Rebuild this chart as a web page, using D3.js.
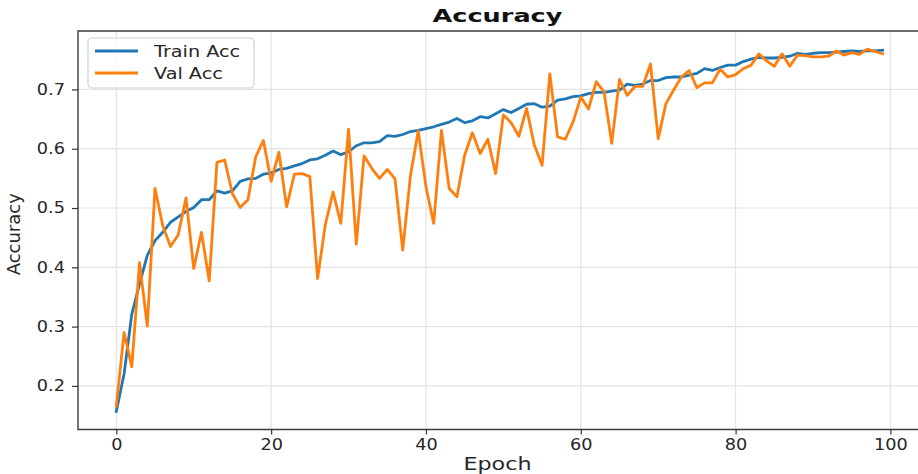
<!DOCTYPE html>
<html>
<head>
<meta charset="utf-8">
<script src="https://cdn.jsdelivr.net/npm/d3@7.9.0/dist/d3.min.js"></script>
<style>
  html, body { margin: 0; padding: 0; background: #fff; }
  svg { display: block; font-family: "DejaVu Sans", sans-serif; }
</style>
</head>
<body>
<svg id="chart" width="918" height="474"></svg>
<script>
const trainAcc = [
  0.157, 0.220, 0.321, 0.372, 0.420, 0.445, 0.459, 0.476, 0.485, 0.494,
  0.501, 0.514, 0.514, 0.529, 0.525, 0.529, 0.545, 0.549, 0.550, 0.557,
  0.559, 0.565, 0.567, 0.571, 0.575, 0.581, 0.583, 0.589, 0.596, 0.590,
  0.595, 0.605, 0.610, 0.610, 0.612, 0.622, 0.621, 0.624, 0.629, 0.631,
  0.634, 0.637, 0.641, 0.645, 0.651, 0.644, 0.647, 0.654, 0.652, 0.659,
  0.666, 0.661, 0.668, 0.675, 0.676, 0.670, 0.672, 0.682, 0.684, 0.688,
  0.689, 0.693, 0.695, 0.695, 0.697, 0.699, 0.709, 0.707, 0.709, 0.715,
  0.715, 0.720, 0.721, 0.721, 0.724, 0.727, 0.735, 0.732, 0.737, 0.741,
  0.741, 0.747, 0.751, 0.754, 0.753, 0.753, 0.754, 0.756, 0.761, 0.759,
  0.761, 0.762, 0.762, 0.763, 0.764, 0.765, 0.764, 0.765, 0.765, 0.766
];

const valAcc = [
  0.166, 0.290, 0.232, 0.408, 0.301, 0.533, 0.470, 0.435, 0.455, 0.517,
  0.398, 0.459, 0.377, 0.577, 0.581, 0.524, 0.501, 0.514, 0.586, 0.614,
  0.545, 0.594, 0.502, 0.557, 0.558, 0.553, 0.381, 0.472, 0.527, 0.474,
  0.633, 0.439, 0.588, 0.567, 0.550, 0.565, 0.549, 0.429, 0.555, 0.630,
  0.536, 0.474, 0.631, 0.533, 0.519, 0.589, 0.627, 0.592, 0.616, 0.558,
  0.657, 0.644, 0.621, 0.668, 0.606, 0.572, 0.726, 0.620, 0.616, 0.645,
  0.687, 0.667, 0.713, 0.696, 0.609, 0.717, 0.690, 0.705, 0.705, 0.743,
  0.617, 0.676, 0.699, 0.721, 0.732, 0.703, 0.711, 0.711, 0.734, 0.721,
  0.725, 0.735, 0.741, 0.760, 0.748, 0.739, 0.760, 0.739, 0.758, 0.757,
  0.755, 0.755, 0.756, 0.765, 0.758, 0.762, 0.759, 0.768, 0.764, 0.760
];

const xTicks = [0, 20, 40, 60, 80, 100];
const yTicks = [0.2, 0.3, 0.4, 0.5, 0.6, 0.7];
const seriesNames = ['Train Acc', 'Val Acc'];
const seriesColors = ['#1f77b4', '#ff7f0e'];

const svg = d3.select('#chart');
const plot = { left: 78, right: 921, top: 31, bottom: 429.5 };

// stretch text horizontally, the reference is a bit wider than the font
function stretch(sel, k) {
  sel.each(function () {
    const w = this.getComputedTextLength();
    d3.select(this).attr('textLength', w * k).attr('lengthAdjust', 'spacingAndGlyphs');
  });
}

const epochs = d3.range(trainAcc.length);
const n = epochs.length - 1;
const x = d3.scaleLinear()
  .domain([-0.05 * n, n * 1.05])
  .range([plot.left, plot.right]);

const [lo, hi] = d3.extent(trainAcc.concat(valAcc));
const pad = (hi - lo) * 0.05;
const y = d3.scaleLinear()
  .domain([lo - pad, hi + pad])
  .range([plot.bottom, plot.top]);

// grid
svg.append('g')
  .selectAll('line')
  .data(xTicks)
  .join('line')
  .attr('x1', (d) => x(d)).attr('x2', (d) => x(d))
  .attr('y1', plot.top).attr('y2', plot.bottom)
  .attr('stroke', '#e3e3e3').attr('stroke-width', 1.2);

svg.append('g')
  .selectAll('line')
  .data(yTicks)
  .join('line')
  .attr('x1', plot.left).attr('x2', plot.right)
  .attr('y1', (d) => y(d)).attr('y2', (d) => y(d))
  .attr('stroke', '#e3e3e3').attr('stroke-width', 1.2);

// lines
const line = d3.line()
  .x((d, i) => x(i))
  .y((d) => y(d));

[trainAcc, valAcc].forEach((s, i) => {
  svg.append('path')
    .datum(s)
    .attr('d', line)
    .attr('fill', 'none')
    .attr('stroke', seriesColors[i])
    .attr('stroke-width', 2.8)
    .attr('stroke-linejoin', 'round')
    .attr('stroke-linecap', 'square');
});

// axes
const xAxis = svg.append('g')
  .attr('transform', `translate(0,${plot.bottom})`)
  .call(d3.axisBottom(x).tickValues(xTicks).tickFormat(d3.format('d')).tickSizeOuter(0).tickSize(5).tickPadding(5));

const yAxis = svg.append('g')
  .attr('transform', `translate(${plot.left},0)`)
  .call(d3.axisLeft(y).tickValues(yTicks).tickFormat(d3.format('.1f')).tickSizeOuter(0).tickSize(6).tickPadding(7));

[xAxis, yAxis].forEach((g) => {
  g.select('.domain').remove();
  g.selectAll('line').attr('stroke', '#333').attr('stroke-width', 1.2);
  g.selectAll('text')
    .attr('font-size', 15)
    .attr('font-family', '"DejaVu Sans", sans-serif')
    .attr('fill', '#262626');
});
stretch(xAxis.selectAll('text'), 1.18);
stretch(yAxis.selectAll('text'), 1.18);

// spines
svg.append('path')
  .attr('d', `M${plot.left},${plot.bottom}V${plot.top}H${plot.right}V${plot.bottom}Z`)
  .attr('fill', 'none')
  .attr('stroke', '#3a3a3a')
  .attr('stroke-width', 1.4);

// title and labels
const title = svg.append('text')
  .attr('x', (plot.left + plot.right) / 2 - 2)
  .attr('y', 22)
  .attr('text-anchor', 'middle')
  .attr('font-size', 18.5)
  .attr('font-weight', 'bold')
  .attr('fill', '#111')
  .text('Accuracy');
stretch(title, 1.38);

const xLabel = svg.append('text')
  .attr('x', (plot.left + plot.right) / 2 - 2)
  .attr('y', 470)
  .attr('text-anchor', 'middle')
  .attr('font-size', 18.5)
  .attr('fill', '#262626')
  .text('Epoch');
stretch(xLabel, 1.2);

svg.append('text')
  .attr('transform', `translate(20,${(plot.top + plot.bottom) / 2 + 4}) rotate(-90)`)
  .attr('text-anchor', 'middle')
  .attr('font-size', 18)
  .attr('fill', '#262626')
  .text('Accuracy');

// legend
const legend = svg.append('g');
legend.append('rect')
  .attr('x', 88).attr('y', 38)
  .attr('width', 166).attr('height', 50)
  .attr('rx', 4)
  .attr('fill', '#fff').attr('fill-opacity', 0.8)
  .attr('stroke', '#d0d0d0').attr('stroke-width', 1.2);

seriesNames.forEach((name, i) => {
  const ly = 51 + i * 22;
  legend.append('line')
    .attr('x1', 95).attr('x2', 138)
    .attr('y1', ly).attr('y2', ly)
    .attr('stroke', seriesColors[i])
    .attr('stroke-width', 2.8);
  const t = legend.append('text')
    .attr('x', 154).attr('y', ly + 6)
    .attr('font-size', 16)
    .attr('fill', '#262626')
    .text(name);
  stretch(t, 1.2);
});
</script>
</body>
</html>
